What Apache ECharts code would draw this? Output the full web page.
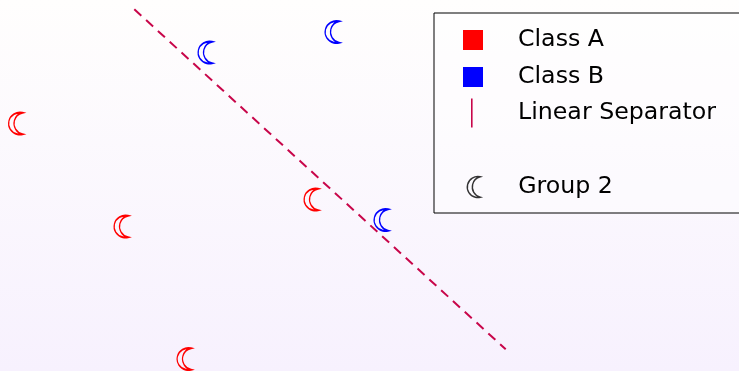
<!DOCTYPE html>
<html>
<head>
<meta charset="utf-8">
<script src="https://cdn.jsdelivr.net/npm/echarts@6/dist/echarts.min.js"></script>
<style>
  html, body { margin: 0; padding: 0; }
  #chart { width: 739px; height: 371px; }
</style>
</head>
<body>
<div id="chart"></div>
<script>
// Sample points of the two classes (plane coordinates)
const classAX = [0.155, 1.21, 3.11, 1.84];
const classAY = [2.475, 1.445, 1.715, 0.12];
const classBX = [2.05, 3.32, 3.81];
const classBY = [3.185, 3.39, 1.51];
// End points of the separating line
const sepX = [1.343, 5.057];
const sepY = [3.617, 0.217];
// Legend labels
const legendNames = ['Class A', 'Class B', 'Linear Separator', 'Group 2'];

const zip = (xs, ys) => xs.map((x, i) => [x, ys[i]]);

// Crescent outline built from two circular arcs; the leading moves pin its box to 14 x 22
const MOON = 'path://M0,0 M14,22 M14,0 A11.3,11.3 0 1 0 14,22 A11.37,11.37 0 0 1 14,0 Z';
const BAR = 'path://M0,0 L1.6,0 L1.6,29 L0,29 Z';
const RED = '#ff0000';
const BLUE = '#0000ff';
const SEP = '#c8064a';

// One legend per row so each icon keeps its own size; text starts at x = 518
function legendRow(name, top, iconLeft, icon, w, h, style) {
  const pad = 518 - (iconLeft + w + 5);
  return {
    data: [{ name: name, icon: icon, itemStyle: style }],
    left: iconLeft, top: top, padding: 0,
    itemWidth: w, itemHeight: h,
    selectedMode: false,
    formatter: '{t|{name}}',
    textStyle: {
      color: '#000',
      rich: { t: { fontFamily: 'DejaVu Sans', fontSize: 23.7, color: '#000', padding: [0, 0, 0, pad] } }
    }
  };
}

const chart = echarts.init(document.getElementById('chart'));
chart.setOption({
  animation: false,
  backgroundColor: {
    type: 'linear', x: 0, y: 0, x2: 0, y2: 1,
    colorStops: [{ offset: 0, color: '#fffefd' }, { offset: 1, color: '#f7f1fe' }]
  },
  grid: { left: 0, right: 0, top: 0, bottom: 0 },
  xAxis: { type: 'value', min: 0, max: 7.39, show: false },
  yAxis: { type: 'value', min: 0, max: 3.71, show: false },
  graphic: [{
    type: 'rect', left: 433.5, top: 12.5, z: 0,
    shape: { width: 330, height: 200 },
    style: { fill: 'rgba(255,255,255,0.35)', stroke: '#000', lineWidth: 1 }
  }],
  legend: [
    legendRow(legendNames[0], 28, 463, 'rect', 20, 20, { color: RED, borderWidth: 0 }),
    legendRow(legendNames[1], 65, 463, 'rect', 20, 20, { color: BLUE, borderWidth: 0 }),
    legendRow(legendNames[2], 98.5, 471, BAR, 1.6, 29, { color: SEP, borderWidth: 0 }),
    legendRow(legendNames[3], 175, 466.5, MOON, 14, 21,
      { color: 'rgba(0,0,0,0)', borderColor: '#000', borderWidth: 1.4 })
  ],
  series: [
    {
      name: legendNames[2], type: 'line',
      data: zip(sepX, sepY), showSymbol: false, symbol: 'none',
      color: SEP,
      lineStyle: { color: SEP, width: 2, type: [9.5, 6.5] }
    },
    {
      name: legendNames[0], type: 'scatter',
      data: zip(classAX, classAY), symbol: MOON, symbolSize: [14, 22], clip: false,
      color: RED,
      itemStyle: { color: 'rgba(0,0,0,0)', borderColor: RED, borderWidth: 1.5, opacity: 1 }
    },
    {
      name: legendNames[1], type: 'scatter',
      data: zip(classBX, classBY), symbol: MOON, symbolSize: [14, 22], clip: false,
      color: BLUE,
      itemStyle: { color: 'rgba(0,0,0,0)', borderColor: BLUE, borderWidth: 1.5, opacity: 1 }
    },
    {
      name: legendNames[3], type: 'scatter', data: [],
      color: '#000'
    }
  ]
});
</script>
</body>
</html>
